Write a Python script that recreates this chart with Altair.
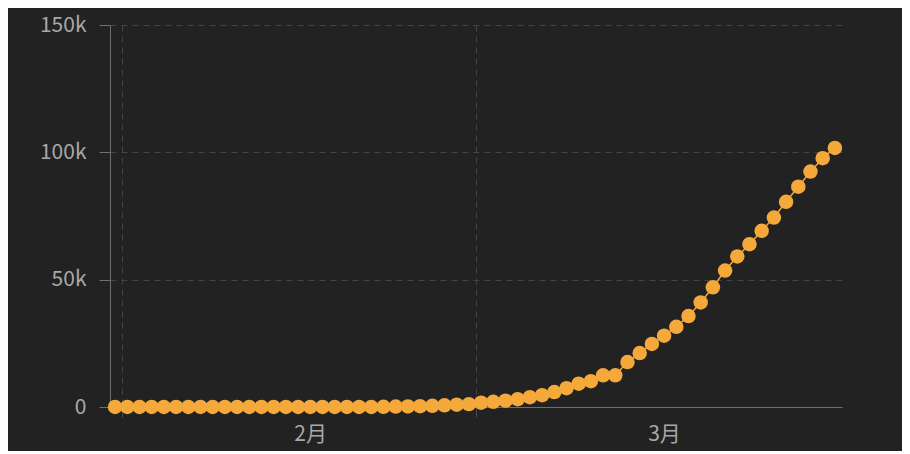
import altair as alt
import pandas as pd

# Dates (one point per day) and cumulative case counts
dates = pd.date_range("2020-01-31", "2020-03-30", freq="D").strftime("%Y-%m-%d").tolist()
cases = [
    2, 2, 2, 2, 2, 2, 2, 3, 3, 3, 3, 3, 3, 3, 3, 3, 3, 3, 3, 3, 3,
    20, 62, 155, 229, 322, 453, 655, 888, 1128,
    1694, 2036, 2502, 3089, 3858, 4636, 5883, 7375, 9172, 10149,
    12462, 12462, 17660, 21157, 24747, 27980, 31506, 35713, 41035, 47021,
    53578, 59138, 63927, 69176, 74386, 80589, 86498, 92472, 97689, 101739,
]
y_ticks = [0, 50000, 100000, 150000]

df = pd.DataFrame({"date": [d + "T10:00:00Z" for d in dates], "cases": cases})

ORANGE = "#F5A93B"
GRID = "#444444"
AXIS = "#6e6e6e"
LABEL = "#a8a8a8"
FONT = "Noto Sans CJK SC"

x = alt.X(
    "date:T",
    scale=alt.Scale(
        type="utc",
        domain=[
            alt.DateTime(year=2020, month=1, date=31, utc=True),
            alt.DateTime(year=2020, month=3, date=31, utc=True),
        ],
    ),
    axis=alt.Axis(
        values=[
            alt.DateTime(year=2020, month=2, date=1, utc=True),
            alt.DateTime(year=2020, month=3, date=1, utc=True),
        ],
        labelExpr="utcFormat(datum.value, '%-m') + '月'",
        labelOffset=188,
        labelFlush=False,
        labelOverlap=False,
        grid=True,
        gridDash=[6, 5],
        gridColor=GRID,
        tickColor="#4a4a4a",
        tickSize=10,
        domainColor=AXIS,
        labelColor=LABEL,
        labelFontSize=21,
        labelFont=FONT,
        labelPadding=6,
        title=None,
        zindex=0,
    ),
)

y = alt.Y(
    "cases:Q",
    scale=alt.Scale(domain=[0, 150000], nice=False),
    axis=alt.Axis(
        values=y_ticks,
        labelExpr="datum.value == 0 ? '0' : format(datum.value, '~s')",
        grid=True,
        gridDash=[6, 5],
        gridColor=GRID,
        domainColor=AXIS,
        tickColor=AXIS,
        tickSize=11,
        labelColor=LABEL,
        labelFontSize=21,
        labelFont=FONT,
        labelPadding=13,
        labelFlush=False,
        title=None,
        zindex=0,
    ),
)

base = alt.Chart(df).encode(x=x, y=y)
line = base.mark_line(color=ORANGE, strokeWidth=1.5)
pts = base.mark_circle(color=ORANGE, size=210, opacity=1)

chart = (
    alt.layer(line, pts)
    .properties(
        width=732,
        height=382,
        background="#222222",
        padding={"left": 102, "top": 17, "right": 60, "bottom": 44},
        autosize=alt.AutoSizeParams(type="none"),
    )
    .configure_view(stroke=None)
)

chart.save("out.html", embed_options={"renderer": "svg", "actions": False})
